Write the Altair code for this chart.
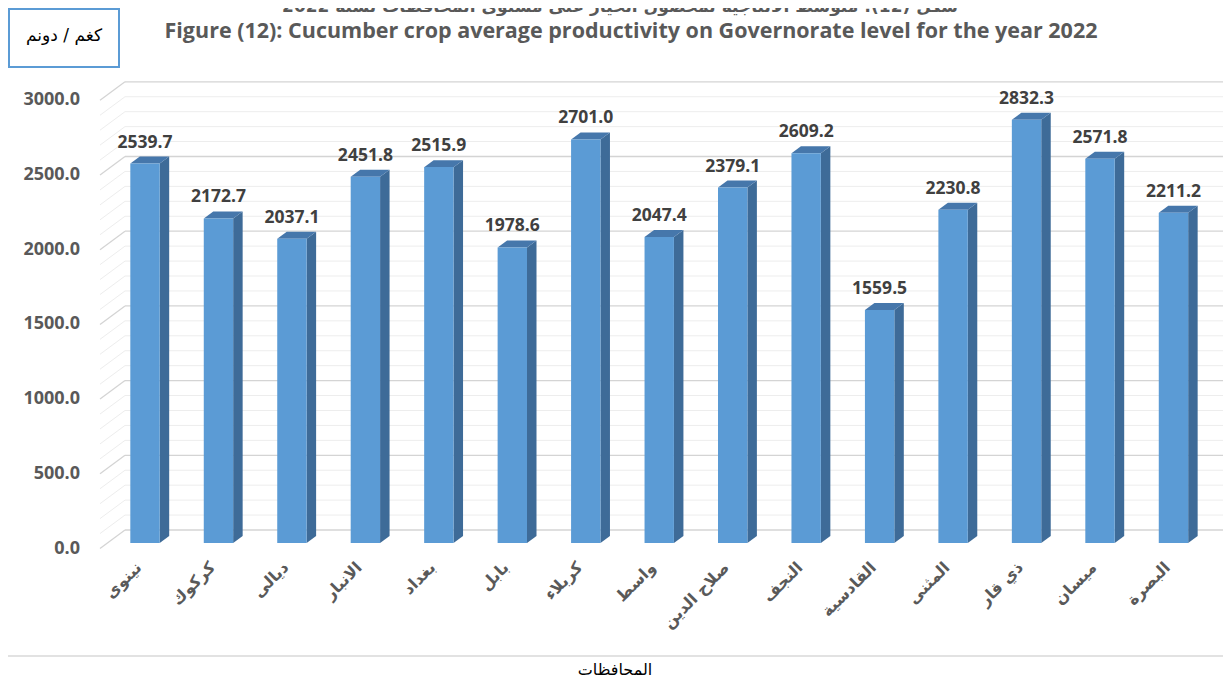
import altair as alt
import pandas as pd

# ---------------- data ----------------
categories = ["نينوى", "كركوك", "ديالى", "الانبار", "بغداد", "بابل", "كربلاء", "واسط",
              "صلاح الدين", "النجف", "القادسية", "المثنى", "ذي قار", "ميسان", "البصرة"]
values = [2539.7, 2172.7, 2037.1, 2451.8, 2515.9, 1978.6, 2701.0, 2047.4,
          2379.1, 2609.2, 1559.5, 2230.8, 2832.3, 2571.8, 2211.2]
y_ticks = [0, 500, 1000, 1500, 2000, 2500, 3000]
minor_ticks = list(range(0, 3001, 100))

title_ar = "\u202bشكل (12): متوسط الانتاجية لمحصول الخيار على مستوى المحافظات لسنة 2022\u202c"
title_en = "Figure (12): Cucumber crop average  productivity on Governorate level for the year 2022"
unit_label = "كغم / دونم"
x_title = "المحافظات"

# ---------------- geometry (3-D projection parameters) ----------------
W, H = 1215, 673
HALF = 0.2      # half bar width, in category steps
DX = 0.1293     # depth along x, in category steps
DY = 46.85      # depth along y, in value units

FRONT = "#5b9bd5"
SIDE = "#3e6b98"
TOP = "#4677ab"
GRAY = "#595959"

xs = alt.Scale(domain=[-0.5, 14.5], range=[100.27, 1202.2], zero=False, nice=False)
ys = alt.Scale(domain=[0, 3000], range=[535, 86.8], zero=False, nice=False)

idx = list(range(len(categories)))
bars = pd.DataFrame({"cat": categories, "val": values, "i": idx})
bars["x0"] = bars["i"] - HALF
bars["x1"] = bars["i"] + HALF
bars["zero"] = 0.0

side_rows, top_rows = [], []
for c, v, i in zip(categories, values, idx):
    for k in (0, 1):
        side_rows.append({"cat": c, "x": i + HALF + k * DX, "top": v + k * DY, "bot": k * DY})
        top_rows.append({"cat": c, "y": v + k * DY, "xl": i - HALF + k * DX, "xr": i + HALF + k * DX})
side = pd.DataFrame(side_rows)
topf = pd.DataFrame(top_rows)

grid = pd.DataFrame({"v": minor_ticks})
grid["major"] = grid["v"] % 500 == 0
ticks = pd.DataFrame({"v": y_ticks})
one = pd.DataFrame({"a": [0]})

# ---------------- layers ----------------
minor_back = alt.Chart(grid).transform_filter("!datum.major").mark_rule(
    color="#ededed", strokeWidth=1, yOffset=-13
).encode(y=alt.Y("v:Q", scale=ys, axis=None), x=alt.value(117), x2=alt.value(W))

major_back = alt.Chart(grid).transform_filter("datum.major").mark_rule(
    color="#d4d4d4", strokeWidth=1.3, yOffset=-13
).encode(y=alt.Y("v:Q", scale=ys, axis=None), x=alt.value(117), x2=alt.value(W))

minor_diag = alt.Chart(grid).transform_filter("!datum.major").mark_rule(
    color="#ededed", strokeWidth=1, yOffset=5.5, y2Offset=-13
).encode(y=alt.Y("v:Q", scale=ys, axis=None), y2="v:Q", x=alt.value(92), x2=alt.value(117))

major_diag = alt.Chart(grid).transform_filter("datum.major").mark_rule(
    color="#d4d4d4", strokeWidth=1.3, yOffset=5.5, y2Offset=-13
).encode(y=alt.Y("v:Q", scale=ys, axis=None), y2="v:Q", x=alt.value(92), x2=alt.value(117))

side_face = alt.Chart(side).mark_area(orient="vertical", color=SIDE).encode(
    x=alt.X("x:Q", scale=xs, axis=None),
    y=alt.Y("top:Q", scale=ys, axis=None),
    y2="bot:Q",
    detail="cat:N",
)

top_face = alt.Chart(topf).mark_area(orient="horizontal", color=TOP).encode(
    y=alt.Y("y:Q", scale=ys, axis=None),
    x=alt.X("xl:Q", scale=xs, axis=None),
    x2="xr:Q",
    detail="cat:N",
)

front_face = alt.Chart(bars).mark_rect(color=FRONT).encode(
    x=alt.X("x0:Q", scale=xs, axis=None), x2="x1:Q",
    y=alt.Y("val:Q", scale=ys, axis=None), y2="zero:Q",
)

value_labels = alt.Chart(bars).mark_text(
    align="center", baseline="alphabetic", dy=-16, fontSize=17.5, fontWeight="bold",
    font="Open Sans", color="#404040"
).encode(
    x=alt.X("i:Q", scale=xs, axis=None),
    y=alt.Y("val:Q", scale=ys, axis=None),
    text=alt.Text("val:Q", format=".1f"),
)

y_labels = alt.Chart(ticks).mark_text(
    align="right", baseline="middle", yOffset=5.5, fontSize=18, fontWeight="bold",
    font="Open Sans", color=GRAY
).encode(
    y=alt.Y("v:Q", scale=ys, axis=None), x=alt.value(72),
    text=alt.Text("v:Q", format=".1f"),
)

x_labels = alt.Chart(bars).mark_text(
    align="right", baseline="middle", angle=315, xOffset=-6, fontSize=16, fontWeight="bold",
    font="DejaVu Sans", color=GRAY
).encode(
    x=alt.X("i:Q", scale=xs, axis=None), y=alt.value(557), text="cat:N",
)

title1 = alt.Chart(one).mark_text(
    align="center", baseline="alphabetic", fontSize=17, fontWeight="bold",
    font="DejaVu Sans", color=GRAY
).encode(x=alt.value(612), y=alt.value(4), text=alt.value(title_ar))

title2 = alt.Chart(one).mark_text(
    align="center", baseline="alphabetic", fontSize=21.5, fontWeight="bold",
    font="Open Sans", color=GRAY
).encode(x=alt.value(623), y=alt.value(30), text=alt.value(title_en))

unit_box = alt.Chart(one).mark_rect(fill="white", stroke=FRONT, strokeWidth=2).encode(
    x=alt.value(1), x2=alt.value(111), y=alt.value(1), y2=alt.value(59)
)
unit_text = alt.Chart(one).mark_text(
    align="center", baseline="middle", fontSize=17, font="DejaVu Sans", color="black"
).encode(x=alt.value(56), y=alt.value(28), text=alt.value(unit_label))

sep = alt.Chart(one).mark_rule(color="#d9d9d9", strokeWidth=1.5).encode(
    x=alt.value(0), x2=alt.value(W), y=alt.value(648)
)
x_axis_title = alt.Chart(one).mark_text(
    align="center", baseline="middle", fontSize=16, font="DejaVu Sans", color="black"
).encode(x=alt.value(607), y=alt.value(662), text=alt.value(x_title))

chart = alt.layer(
    minor_back, major_back, minor_diag, major_diag,
    side_face, top_face, front_face,
    value_labels, y_labels, x_labels,
    title1, title2, unit_box, unit_text, sep, x_axis_title,
).properties(
    width=W, height=H,
    autosize=alt.AutoSizeParams(type="none"),
    padding=0,
    background="white",
).configure_view(stroke=None)

chart.save("out.html", embed_options={"renderer": "svg", "actions": False})
